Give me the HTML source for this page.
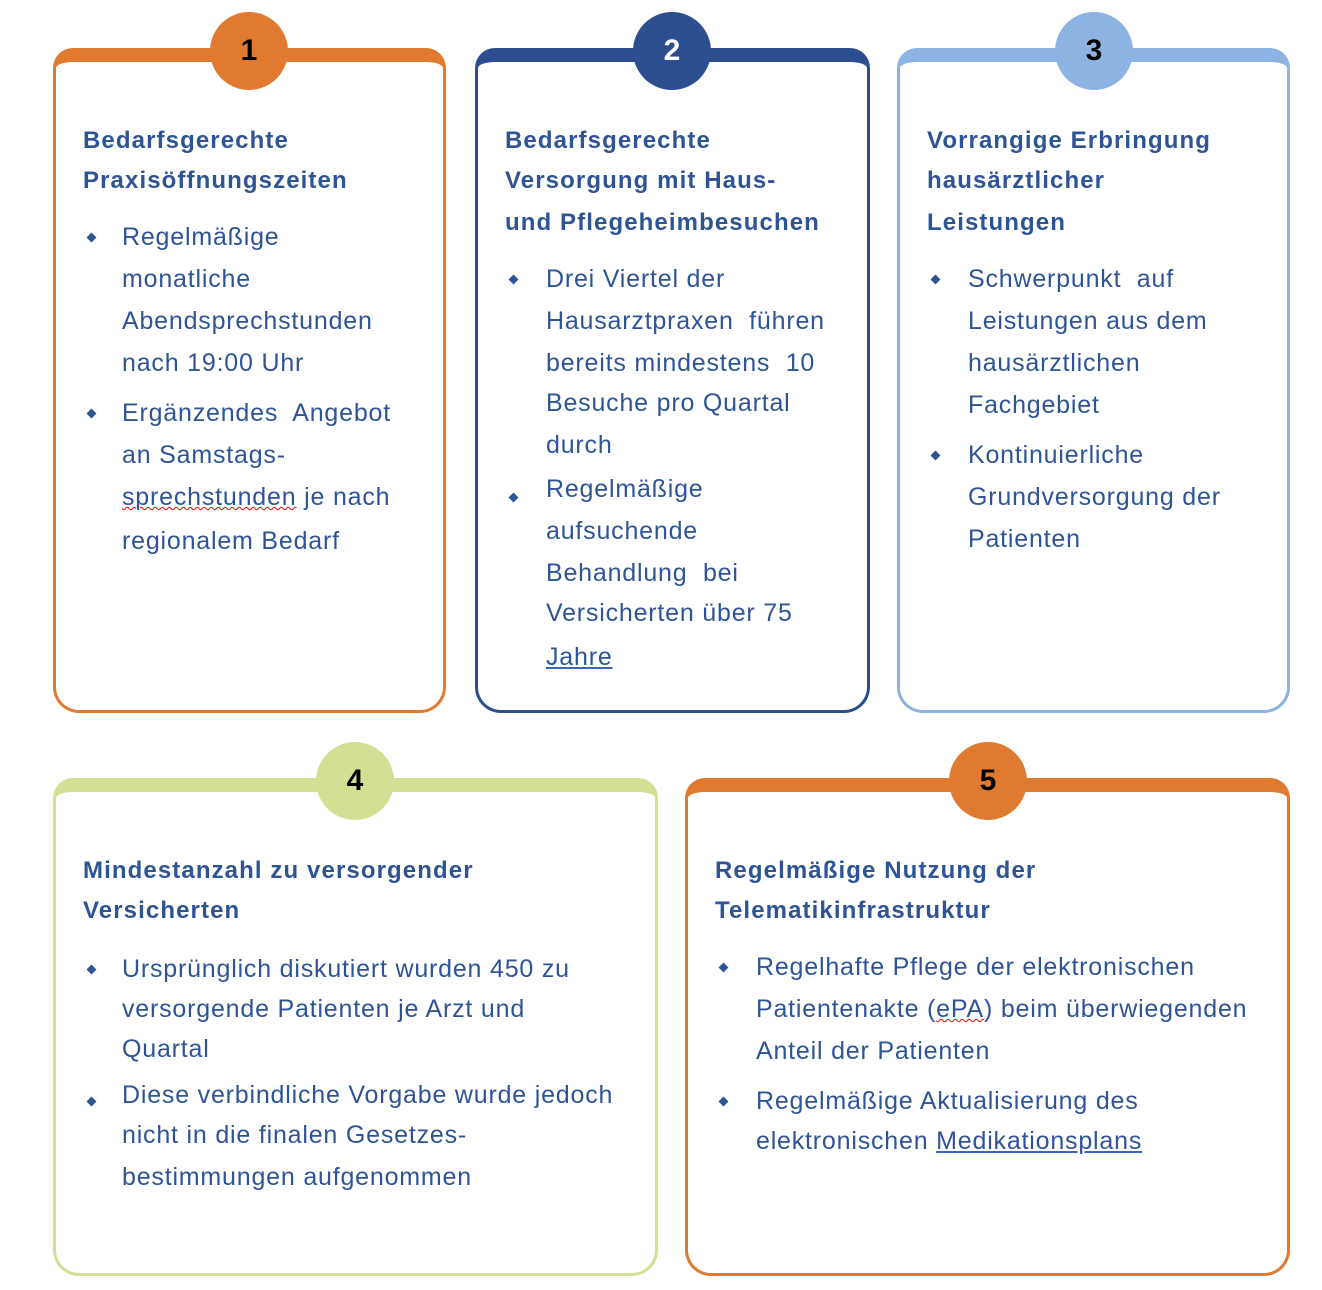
<!DOCTYPE html>
<html><head><meta charset="utf-8"><style>
html,body{margin:0;padding:0;background:#fff;}
body{width:1322px;height:1290px;position:relative;overflow:hidden;font-family:"Liberation Sans",Arial,sans-serif;color:#2f5496;}
.card{position:absolute;box-sizing:border-box;border:3px solid;border-top-width:14px;border-radius:20px 20px 26px 26px;background:#fff;}
.circ{position:absolute;width:78px;height:78px;border-radius:50%;text-align:center;line-height:78px;font-weight:bold;font-size:30px;color:#000;}
.t{position:absolute;font-weight:bold;font-size:24px;line-height:30px;white-space:nowrap;letter-spacing:1.1px;}
.l{position:absolute;font-size:25px;line-height:30px;white-space:nowrap;letter-spacing:0.8px;}
.b{position:absolute;width:7px;height:7px;background:#2f5496;transform:rotate(45deg);}
u{text-decoration-color:#3b63c4;}
.w{text-decoration:underline wavy red;text-decoration-thickness:1px;}
</style></head><body>

<div class="card" style="left:53px;top:48px;width:393px;height:665px;border-color:#e07a30"></div>
<div class="circ" style="left:210px;top:12px;background:#e07a30">1</div>
<div class="card" style="left:475px;top:48px;width:395px;height:665px;border-color:#2d4e8e"></div>
<div class="circ" style="left:633px;top:12px;background:#2d4e8e;color:#fff">2</div>
<div class="card" style="left:897px;top:48px;width:393px;height:665px;border-color:#8db3e2"></div>
<div class="circ" style="left:1055px;top:12px;background:#8db3e2">3</div>
<div class="card" style="left:53px;top:778px;width:605px;height:498px;border-color:#d2e095"></div>
<div class="circ" style="left:316px;top:742px;background:#d2e095">4</div>
<div class="card" style="left:685px;top:778px;width:605px;height:498px;border-color:#e07a30"></div>
<div class="circ" style="left:949px;top:742px;background:#e07a30">5</div>

<!-- card 1 -->
<div class="t" style="left:83px;top:126px">Bedarfsgerechte</div>
<div class="t" style="left:83px;top:166px">Praxisöffnungszeiten</div>
<div class="b" style="left:88px;top:234px"></div>
<div class="l" style="left:122px;top:222px">Regelmäßige</div>
<div class="l" style="left:122px;top:264px">monatliche</div>
<div class="l" style="left:122px;top:306px">Abendsprechstunden</div>
<div class="l" style="left:122px;top:348px">nach 19:00 Uhr</div>
<div class="b" style="left:88px;top:410px"></div>
<div class="l" style="left:122px;top:398px">Ergänzendes&nbsp; Angebot</div>
<div class="l" style="left:122px;top:440px">an Samstags-</div>
<div class="l" style="left:122px;top:482px"><span class="w">sprechstunden</span> je nach</div>
<div class="l" style="left:122px;top:526px">regionalem Bedarf</div>

<!-- card 2 -->
<div class="t" style="left:505px;top:126px">Bedarfsgerechte</div>
<div class="t" style="left:505px;top:166px">Versorgung mit Haus-</div>
<div class="t" style="left:505px;top:208px">und Pflegeheimbesuchen</div>
<div class="b" style="left:510px;top:276px"></div>
<div class="l" style="left:546px;top:264px">Drei Viertel der</div>
<div class="l" style="left:546px;top:306px">Hausarztpraxen&nbsp; führen</div>
<div class="l" style="left:546px;top:348px">bereits mindestens&nbsp; 10</div>
<div class="l" style="left:546px;top:388px">Besuche pro Quartal</div>
<div class="l" style="left:546px;top:430px">durch</div>
<div class="b" style="left:510px;top:494px"></div>
<div class="l" style="left:546px;top:474px">Regelmäßige</div>
<div class="l" style="left:546px;top:516px">aufsuchende</div>
<div class="l" style="left:546px;top:558px">Behandlung&nbsp; bei</div>
<div class="l" style="left:546px;top:598px">Versicherten über 75</div>
<div class="l" style="left:546px;top:642px"><u>Jahre</u></div>

<!-- card 3 -->
<div class="t" style="left:927px;top:126px">Vorrangige Erbringung</div>
<div class="t" style="left:927px;top:166px">hausärztlicher</div>
<div class="t" style="left:927px;top:208px">Leistungen</div>
<div class="b" style="left:932px;top:276px"></div>
<div class="l" style="left:968px;top:264px">Schwerpunkt&nbsp; auf</div>
<div class="l" style="left:968px;top:306px">Leistungen aus dem</div>
<div class="l" style="left:968px;top:348px">hausärztlichen</div>
<div class="l" style="left:968px;top:390px">Fachgebiet</div>
<div class="b" style="left:932px;top:452px"></div>
<div class="l" style="left:968px;top:440px">Kontinuierliche</div>
<div class="l" style="left:968px;top:482px">Grundversorgung der</div>
<div class="l" style="left:968px;top:524px">Patienten</div>

<!-- card 4 -->
<div class="t" style="left:83px;top:856px">Mindestanzahl zu versorgender</div>
<div class="t" style="left:83px;top:896px">Versicherten</div>
<div class="b" style="left:88px;top:966px"></div>
<div class="l" style="left:122px;top:954px">Ursprünglich diskutiert wurden 450 zu</div>
<div class="l" style="left:122px;top:994px">versorgende Patienten je Arzt und</div>
<div class="l" style="left:122px;top:1034px">Quartal</div>
<div class="b" style="left:88px;top:1098px"></div>
<div class="l" style="left:122px;top:1080px">Diese verbindliche Vorgabe wurde jedoch</div>
<div class="l" style="left:122px;top:1120px">nicht in die finalen Gesetzes-</div>
<div class="l" style="left:122px;top:1162px">bestimmungen aufgenommen</div>

<!-- card 5 -->
<div class="t" style="left:715px;top:856px">Regelmäßige Nutzung der</div>
<div class="t" style="left:715px;top:896px">Telematikinfrastruktur</div>
<div class="b" style="left:720px;top:964px"></div>
<div class="l" style="left:756px;top:952px">Regelhafte Pflege der elektronischen</div>
<div class="l" style="left:756px;top:994px">Patientenakte (<span class="w">ePA</span>) beim überwiegenden</div>
<div class="l" style="left:756px;top:1036px">Anteil der Patienten</div>
<div class="b" style="left:720px;top:1098px"></div>
<div class="l" style="left:756px;top:1086px">Regelmäßige Aktualisierung des</div>
<div class="l" style="left:756px;top:1126px">elektronischen <u>Medikationsplans</u></div>

</body></html>
